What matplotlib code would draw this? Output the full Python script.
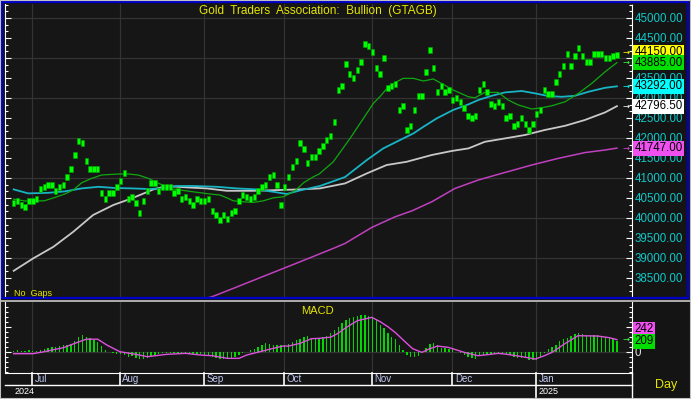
import matplotlib
matplotlib.use('Agg')
import matplotlib.pyplot as plt
import matplotlib.transforms as mtransforms
from matplotlib.ticker import MultipleLocator
from matplotlib.patches import Rectangle
from matplotlib.lines import Line2D

plt.rcParams['font.family'] = ['Liberation Sans', 'DejaVu Sans']

W, H = 691, 399

# closing prices, one per trading day (late Jun 2024 -> Jan 2025)
closes = [
    40460, 40510, 40410, 40360, 40510, 40510, 40560, 40810, 40860, 40910,
    40910, 40760, 40860, 40910, 41110, 41310, 41660, 42010, 41960, 41510,
    41310, 41310, 41310, 40710, 40560, 40710, 40710, 40860, 41010, 41210,
    40560, 40610, 40460, 40210, 40510, 40760, 40960, 40960, 40760, 40860,
    40860, 40860, 40710, 40760, 40560, 40610, 40510, 40410, 40560, 40510,
    40510, 40560, 40260, 40160, 40030, 40160, 40060, 40210, 40260, 40510,
    40660, 40610, 40560, 40610, 40760, 40860, 40910, 41110, 41160, 40910,
    40410, 40860, 41110, 41360, 41510, 41960, 41810, 41460, 41610, 41610,
    41760, 41870, 42020, 42120, 42470, 43270, 43370, 43920, 43670, 43570,
    43770, 43970, 44420, 44370, 44220, 43820, 43670, 44070, 43320, 43370,
    43420, 42770, 42870, 42270, 42370, 42770, 43120, 43120, 43720, 44270,
    43820, 43220, 43370, 43220, 43270, 43020, 43070, 42970, 42820, 42620,
    42570, 42620, 43270, 43420, 43220, 42920, 42870, 42970, 42870, 42570,
    42620, 42380, 42420, 42570, 42420, 42270, 42420, 42670, 42770, 43270,
    43170, 43170, 43470, 43670, 43870, 44170, 43870, 44120, 44320, 44120,
    43970, 43970, 44170, 44170, 44170, 44070, 44070, 44120, 44150,
]

# moving averages (day index, value)
ma_green_day = [0, 3, 8, 10.8, 13.4, 15.6, 17.8, 20.4, 23, 27.4, 30, 32.6, 35.3, 37.9,
                40.9, 43.6, 47, 51.4, 54, 55.8, 57.5, 60.1, 62.8, 65.4, 68, 70.6, 72.4,
                74.1, 75.9, 78.5, 80, 83.7, 88.1, 91.6, 94.2, 95.9, 98.1, 100.3, 102,
                104.7, 107.3, 109.9, 112.5, 115.1, 119.1, 120.8, 123.4, 126.9, 129.5,
                132.2, 135.7, 138.3, 140.9, 144.4, 147.9, 151.4, 154.9, 158]
ma_green = [40470, 40425, 40430, 40515, 40600, 40700, 40880, 40990, 41075, 41100,
            41100, 41075, 40990, 40870, 40735, 40700, 40655, 40600, 40575, 40505,
            40430, 40405, 40390, 40430, 40505, 40530, 40615, 40715, 40880, 41030,
            41100, 41405, 41990, 42490, 42865, 43030, 43280, 43405, 43490, 43490,
            43425, 43475, 43340, 43200, 43030, 43005, 43140, 43140, 42950, 42825,
            42725, 42755, 42805, 42905, 43115, 43365, 43655, 43885]

ma_cyan_day = [0, 3.8, 9.1, 13.4, 17.8, 22.2, 26.5, 30.9, 35.3, 39.2, 42.7, 47, 53.2,
               58.4, 63.6, 68, 71.5, 75, 80.2, 86.8, 92.5, 96.8, 101.2, 104.7, 107.3,
               110.8, 115.1, 119.1, 121.7, 125.2, 128.7, 133.1, 136.6, 140, 143.5, 147,
               150.5, 154.9, 158]
ma_cyan = [40715, 40615, 40630, 40665, 40740, 40780, 40750, 40740, 40725, 40740,
           40800, 40800, 40780, 40740, 40715, 40655, 40600, 40690, 40800, 41025,
           41450, 41740, 41950, 42115, 42280, 42490, 42700, 42840, 42950, 43055,
           43140, 43175, 43115, 43050, 43030, 43055, 43155, 43255, 43292]

ma_white_day = [0, 5.1, 10.4, 15.6, 20.8, 26.1, 30.9, 36.6, 40.1, 45.3, 50.5, 55.8,
                62.8, 69.7, 75, 80.2, 86.8, 92.5, 97.7, 102.9, 109.5, 114.7, 119.1,
                123.4, 128.7, 133.9, 139.1, 144.4, 149.6, 154.9, 158]
ma_white = [38680, 38990, 39280, 39655, 40075, 40325, 40490, 40715, 40800, 40765,
            40740, 40680, 40680, 40700, 40715, 40740, 40865, 41115, 41325, 41405,
            41575, 41675, 41740, 41905, 41990, 42075, 42200, 42305, 42450, 42640,
            42796.5]

ma_pink_day = [48, 51.9, 57.5, 66.3, 75, 83.7, 86.8, 93.8, 99.9, 104.2, 109.5, 115.6,
               121.7, 127.8, 135.7, 142.6, 149.6, 154.9, 158]
ma_pink = [37930, 38030, 38240, 38575, 38905, 39240, 39365, 39765, 40030, 40175,
           40405, 40740, 40950, 41115, 41325, 41490, 41635, 41700, 41747]

# MACD histogram, one per trading day
macd = [
    20, 25, 20, 20, 25, 20, 20, 33, 60, 80,
    100, 100, 120, 125, 133, 147, 213, 300, 333, 300,
    280, 233, 200, 120, 40, 0, -30, -50, -40, -70,
    -100, -90, -120, -140, -150, -120, -90, -60, -40, -30,
    -20, -20, -30, -20, -20, -30, -40, -50, -40, -40,
    -60, -90, -110, -130, -150, -140, -150, -140, -110, -70,
    -30, 0, 30, 60, 100, 130, 167, 160, 140, 133,
    133, 140, 160, 200, 233, 260, 300, 313, 280, 267,
    270, 287, 320, 367, 430, 500, 570, 633, 680, 700,
    720, 733, 735, 720, 690, 633, 533, 467, 367, 300,
    250, 133, 40, -60, -100, -100, -80, 0, 80, 147,
    167, 133, 80, 67, 60, 47, 0, -33, -67, -100,
    -130, -147, -80, -67, -60, -67, -53, -50, -53, -60,
    -70, -100, -120, -120, -130, -160, -167, -160, -100, -33,
    47, 90, 133, 213, 250, 280, 320, 347, 367, 360,
    340, 333, 333, 330, 320, 290, 267, 250, 209,
]

signal_day = [0, 5, 8, 10, 13, 16, 19, 22, 24.4, 27.8, 32, 35, 40, 45, 49, 52, 56, 59,
              61, 64.5, 68, 70.6, 72, 75, 78, 80, 83, 85, 87, 90, 93.8, 96, 98, 100,
              102.5, 104.5, 106.9, 109, 111, 113.8, 118, 121.6, 124, 126.9, 129, 132.2,
              136.6, 139, 141, 144.5, 147.8, 153, 156, 158]
signal = [-40, -40, 0, 33, 80, 167, 250, 250, 133, 0, -53, -100, -53, -33, -67, -80,
          -133, -133, -67, 0, 67, 113, 113, 167, 260, 267, 290, 370, 480, 620, 687,
          600, 500, 380, 200, 60, -13, 60, 113, 87, -13, -80, -60, -33, -50, -87,
          -147, -80, -13, 167, 320, 313, 280, 242]

month_names = ['Jul', 'Aug', 'Sep', 'Oct', 'Nov', 'Dec', 'Jan']
month_pos = [4.8, 27.8, 49.8, 70.8, 93.9, 114.9, 136.9]
year_names = ['2024', '2025']

BG = '#161616'
GRID = '#333333'
YELLOW = '#e6e600'
MARK_H = 150


def px_box(x0, y0, x1, y1):
    return [x0 / W, 1 - y1 / H, (x1 - x0) / W, (y1 - y0) / H]


fig = plt.figure(figsize=(W / 100, H / 100), dpi=100, facecolor='#141414')
ax1 = fig.add_axes(px_box(5, 4, 632, 297), facecolor=BG)
ax2 = fig.add_axes(px_box(5, 302, 632, 373), facecolor=BG, sharex=ax1)

days = list(range(len(closes)))

# ---- price panel ----
for m in month_pos:
    ax1.axvline(m, color=GRID, lw=0.9, zorder=0)
    ax2.axvline(m, color=GRID, lw=0.9, zorder=0)
for v in range(39000, 45001, 1000):
    ax1.axhline(v, color=GRID, lw=0.9, zorder=0)

ax1.plot(ma_pink_day, ma_pink, color='#c040c0', lw=1.1, zorder=2)
ax1.plot(ma_white_day, ma_white, color='#c8c8c8', lw=1.3, zorder=2)
ax1.plot(ma_cyan_day, ma_cyan, color='#18b4c4', lw=1.3, zorder=2)
ax1.plot(ma_green_day, ma_green, color='#10a810', lw=0.9, zorder=3)
ax1.bar(days, [MARK_H] * len(closes), bottom=[c - MARK_H for c in closes],
        width=0.9, color='#00ff00', edgecolor='#00a000', linewidth=0.4, zorder=4)

ax1.set_xlim(-2.28, 161.95)
ax1.set_ylim(38025, 45350)
ax1.yaxis.set_major_locator(MultipleLocator(500))
ax1.yaxis.set_minor_locator(MultipleLocator(500 / 3))
ax1.yaxis.set_major_formatter(lambda v, p: f'{v:.2f}')
ax1.tick_params(axis='y', which='both', left=True, right=True, labelleft=False,
                labelright=True, direction='in', colors='white',
                labelcolor='#10c8c8', labelsize=8.3, pad=2)
ax1.tick_params(axis='y', which='major', length=4, width=0.8)
ax1.tick_params(axis='y', which='minor', length=2, width=0.8)
ax1.tick_params(axis='x', which='both', bottom=False, labelbottom=False)
for s in ['top', 'bottom']:
    ax1.spines[s].set_visible(False)
ax1.spines['left'].set_color('white')
ax1.spines['right'].set_color('white')
ax1.spines['right'].set_linestyle((0, (1, 1)))

# last values: boxes and arrows
last = days[-1]
price_tags = [
    (closes[-1], '#ffff00', '#ffff00'),
    (ma_green[-1], '#00e000', '#40ff40'),
    (ma_cyan[-1], '#00ffff', '#00ffff'),
    (ma_white[-1], '#ffffff', '#ffffff'),
    (ma_pink[-1], '#f050f0', '#e040e0'),
]
for val, fc, ac in price_tags:
    ax1.text(1.004, val, f'{val:.2f}', transform=ax1.get_yaxis_transform(),
             ha='left', va='center', fontsize=8.3, color='black',
             bbox=dict(boxstyle='square,pad=0.12', fc=fc, ec='none'),
             clip_on=False, zorder=10)
    ax1.text(last + 1.4, val, '→', ha='left', va='center', fontsize=6,
             color=ac, family='DejaVu Sans', zorder=6)

fig.text(318 / W, 1 - 11 / H, 'Gold  Traders  Association:  Bullion  (GTAGB)',
         ha='center', va='center', color=YELLOW, fontsize=8.5)
fig.text(14 / W, 1 - 293 / H, 'No  Gaps', ha='left', va='center',
         color=YELLOW, fontsize=6.5)

# ---- MACD panel ----
ax2.axhline(0, color='#333333', lw=0.9, zorder=0)
ax2.bar(days, macd, width=0.35, color='#00d800', zorder=2)
ax2.plot(signal_day, signal, color='#e050e0', lw=1.0, zorder=3)
ax2.set_ylim(-426, 994)
ax2.yaxis.set_major_locator(MultipleLocator(500))
ax2.yaxis.set_minor_locator(MultipleLocator(100))
ax2.yaxis.set_major_formatter(lambda v, p: '0' if v == 0 else '')
ax2.tick_params(axis='y', which='both', left=True, right=True, labelleft=False,
                labelright=True, direction='in', colors='white',
                labelcolor='#e0e0e0', labelsize=8.3, pad=2)
ax2.tick_params(axis='y', which='major', length=4, width=0.8)
ax2.tick_params(axis='y', which='minor', length=2, width=0.8)
ax2.tick_params(axis='x', which='both', bottom=False, labelbottom=False)
ax2.spines['top'].set_visible(False)
for s in ['left', 'right', 'bottom']:
    ax2.spines[s].set_color('white')

box_units = 12 * 20
ax2.text(1.004, macd[-1] + box_units, f'{signal[-1]}', transform=ax2.get_yaxis_transform(),
         ha='left', va='center', fontsize=8.3, color='black',
         bbox=dict(boxstyle='square,pad=0.12', fc='#f050f0', ec='none'),
         clip_on=False, zorder=10)
ax2.text(1.004, macd[-1], f'{macd[-1]}', transform=ax2.get_yaxis_transform(),
         ha='left', va='center', fontsize=8.3, color='black',
         bbox=dict(boxstyle='square,pad=0.12', fc='#00e000', ec='none'),
         clip_on=False, zorder=10)
ax2.text(last + 1.4, signal[-1], '→', ha='left', va='center', fontsize=6,
         color='#40ff40', family='DejaVu Sans', zorder=6)
fig.text(317 / W, 1 - 311.5 / H, 'MACD', ha='center', va='center',
         color=YELLOW, fontsize=8)

# ---- date rows ----
blend = mtransforms.blended_transform_factory(ax2.transData, fig.transFigure)
label_tr = mtransforms.offset_copy(blend, fig=fig, x=2.5, y=0, units='dots')
for m, name in zip(month_pos, month_names):
    y_end = 1 - 397 / H if name == 'Jan' else 1 - 385 / H
    ax2.add_line(Line2D([m, m], [1 - 373 / H, y_end], transform=blend,
                        color='white', lw=1.2, clip_on=False))
    ax2.text(m, 1 - 379.5 / H, name, transform=label_tr, ha='left', va='center',
             color='#c0c8f0', fontsize=7, clip_on=False)
ax2.text(month_pos[-1], 1 - 391 / H, year_names[1], transform=label_tr,
         ha='left', va='center', color='white', fontsize=6.5, clip_on=False)
fig.text(15 / W, 1 - 391 / H, year_names[0], ha='left', va='center',
         color='white', fontsize=6.5)
fig.add_artist(Line2D([5 / W, 632 / W], [1 - 385 / H] * 2, color='white', lw=1))
fig.add_artist(Line2D([632 / W] * 2, [1 - 373 / H, 1 - 397 / H], color='white', lw=1))
fig.text(665.7 / W, 1 - 384.7 / H, 'Day', ha='center', va='center',
         color=YELLOW, fontsize=9)

# frames
fig.add_artist(Rectangle((1.5 / W, 1 - 298 / H), 686.5 / W, 296.5 / H, fill=False,
                         ec='#0000c8', lw=1.6, transform=fig.transFigure))
fig.add_artist(Line2D([0, 1], [1 - 300.5 / H] * 2, color='#c8c8c8', lw=1.2))
fig.add_artist(Rectangle((0, 0), 1, 1, fill=False, ec='#c0c0c0', lw=1.5,
                         transform=fig.transFigure))

fig.savefig('out.png', dpi=100, facecolor=fig.get_facecolor())
